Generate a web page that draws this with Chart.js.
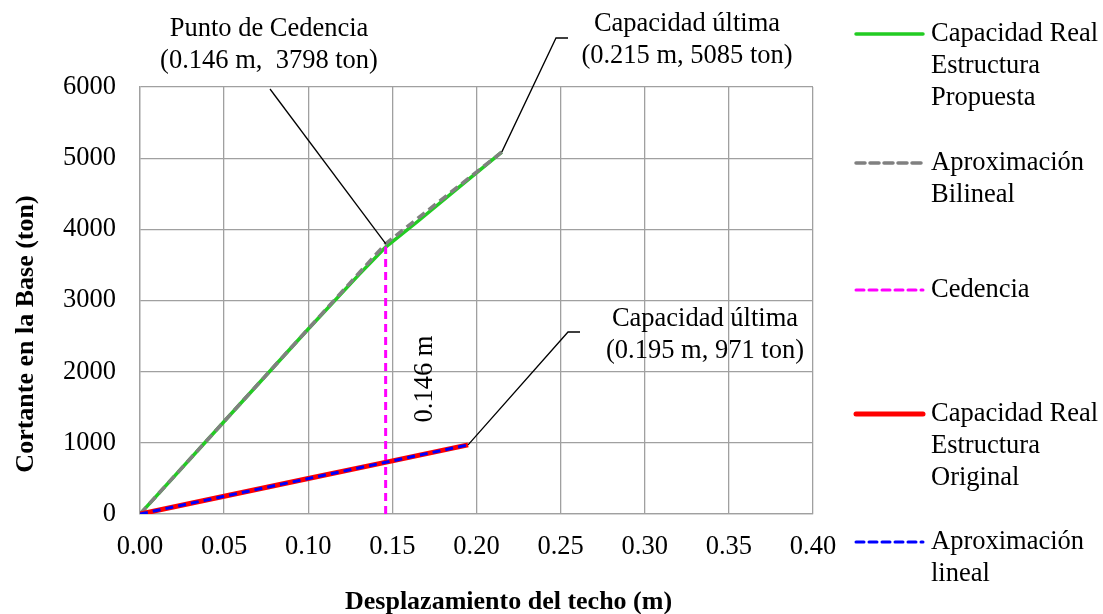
<!DOCTYPE html>
<html>
<head>
<meta charset="utf-8">
<script src="https://cdn.jsdelivr.net/npm/chart.js@4"></script>
<style>
    html, body { margin: 0; padding: 0; background: #fff; }
    #curva { display: block; }
</style>
</head>
<body>
<canvas id="curva" width="1103" height="614"></canvas>
<script>
// Curva de capacidad (pushover): desplazamiento del techo (m) vs cortante basal (ton)
const propuestaX = [0, 0.05, 0.10, 0.13, 0.146, 0.165, 0.19, 0.215];
const propuestaY = [0, 1300, 2600, 3360, 3750, 4110, 4600, 5085];

const bilinealX = [0, 0.146, 0.215];
const bilinealY = [0, 3798, 5085];

const cedenciaX = [0.146, 0.146];
const cedenciaY = [0, 3760];

const originalX = [0, 0.05, 0.10, 0.15, 0.195];
const originalY = [0, 249, 498, 747, 971];

const linealX = [0, 0.195];
const linealY = [0, 971];

const xTickValues = [0, 0.05, 0.10, 0.15, 0.20, 0.25, 0.30, 0.35, 0.40];
const yTickValues = [0, 1000, 2000, 3000, 4000, 5000, 6000];

const SERIF = '"Liberation Serif", "Times New Roman", serif';
const GRID = '#a0a0a0';
const FS = 26.5;

const toPoints = (xs, ys) => xs.map((x, i) => ({ x: x, y: ys[i] }));

const series = [
    { label: ['Capacidad Real', 'Estructura', 'Propuesta'], data: toPoints(propuestaX, propuestaY), color: '#22cc22', width: 3.5, dash: [], order: 5, legendY: 34 },
    { label: ['Aproximación', 'Bilineal'], data: toPoints(bilinealX, bilinealY), color: '#808080', width: 3.5, dash: [9, 5], order: 4, legendY: 163 },
    { label: ['Cedencia'], data: toPoints(cedenciaX, cedenciaY), color: '#ff00ff', width: 3, dash: [8, 5], order: 3, legendY: 290 },
    { label: ['Capacidad Real', 'Estructura', 'Original'], data: toPoints(originalX, originalY), color: '#ff0000', width: 5, dash: [], order: 2, legendY: 414 },
    { label: ['Aproximación', 'lineal'], data: toPoints(linealX, linealY), color: '#0000ff', width: 3, dash: [8, 5], order: 1, legendY: 542 }
];

// Notas con línea guía: punto de datos -> codo -> fin del trazo horizontal
const notas = [
    { at: [0.146, 3798], elbow: [270, 89], tail: null, lines: ['Punto de Cedencia', '(0.146 m,  3798 ton)'], cx: 269, cy: [29, 61] },
    { at: [0.215, 5085], elbow: [556, 38], tail: [568, 38], lines: ['Capacidad última', '(0.215 m, 5085 ton)'], cx: 687, cy: [24, 56] },
    { at: [0.195, 971], elbow: [568, 332], tail: [580, 332], lines: ['Capacidad última', '(0.195 m, 971 ton)'], cx: 705, cy: [319, 351] }
];

const extras = {
    id: 'extras',
    afterDraw(chart) {
        const ctx = chart.ctx;
        const xs = chart.scales.x;
        const ys = chart.scales.y;
        ctx.save();

        // leader lines and their labels
        ctx.strokeStyle = '#000';
        ctx.lineWidth = 1.3;
        ctx.fillStyle = '#000';
        ctx.font = FS + 'px ' + SERIF;
        ctx.textAlign = 'center';
        ctx.textBaseline = 'middle';
        notas.forEach(n => {
            ctx.beginPath();
            ctx.moveTo(xs.getPixelForValue(n.at[0]), ys.getPixelForValue(n.at[1]));
            ctx.lineTo(n.elbow[0], n.elbow[1]);
            if (n.tail) ctx.lineTo(n.tail[0], n.tail[1]);
            ctx.stroke();
            n.lines.forEach((t, i) => ctx.fillText(t, n.cx, n.cy[i]));
        });

        // rotated yield displacement label
        ctx.textBaseline = 'alphabetic';
        ctx.save();
        ctx.translate(432, 379);
        ctx.rotate(-Math.PI / 2);
        ctx.fillText('0.146 m', 0, 0);
        ctx.restore();

        // axis titles
        ctx.font = 'bold 26px ' + SERIF;
        ctx.textAlign = 'left';
        ctx.fillText('Desplazamiento del techo (m)', 345, 609);
        ctx.textAlign = 'center';
        ctx.save();
        ctx.translate(33, 334);
        ctx.rotate(-Math.PI / 2);
        ctx.fillText('Cortante en la Base (ton)', 0, 0);
        ctx.restore();

        // legend
        ctx.font = FS + 'px ' + SERIF;
        ctx.textAlign = 'left';
        ctx.textBaseline = 'middle';
        series.forEach(s => {
            ctx.beginPath();
            ctx.strokeStyle = s.color;
            ctx.lineWidth = s.width;
            ctx.lineCap = 'round';
            ctx.setLineDash(s.dash);
            ctx.moveTo(856, s.legendY);
            ctx.lineTo(923, s.legendY);
            ctx.stroke();
            ctx.setLineDash([]);
            s.label.forEach((t, i) => ctx.fillText(t, 931, s.legendY + i * 32));
        });

        ctx.restore();
    }
};

new Chart(document.getElementById('curva'), {
    type: 'scatter',
    data: {
        datasets: series.map(s => ({
            label: s.label.join(' '),
            data: s.data,
            showLine: true,
            borderColor: s.color,
            backgroundColor: s.color,
            borderWidth: s.width,
            borderDash: s.dash,
            pointRadius: 0,
            tension: 0,
            order: s.order
        }))
    },
    options: {
        responsive: false,
        animation: false,
        layout: { padding: { left: 0, top: 87, right: 290, bottom: 0 } },
        plugins: { legend: { display: false }, tooltip: { enabled: false } },
        scales: {
            x: {
                type: 'linear',
                min: 0,
                max: 0.4,
                afterBuildTicks: axis => { axis.ticks = xTickValues.map(v => ({ value: v })); },
                afterFit: axis => { axis.height = 100; },
                ticks: {
                    color: '#000',
                    padding: 17,
                    maxRotation: 0,
                    font: { family: SERIF, size: FS },
                    callback: v => v.toFixed(2)
                },
                grid: { color: GRID, lineWidth: 1.3, drawTicks: false },
                border: { color: GRID, width: 1.3 }
            },
            y: {
                type: 'linear',
                min: 0,
                max: 6000,
                afterBuildTicks: axis => { axis.ticks = yTickValues.map(v => ({ value: v })); },
                afterFit: axis => { axis.width = 140; },
                ticks: {
                    color: '#000',
                    padding: 24,
                    font: { family: SERIF, size: FS },
                    callback: v => String(v)
                },
                grid: { color: GRID, lineWidth: 1.3, drawTicks: false },
                border: { color: GRID, width: 1.3 }
            }
        }
    },
    plugins: [extras]
});
</script>
</body>
</html>
